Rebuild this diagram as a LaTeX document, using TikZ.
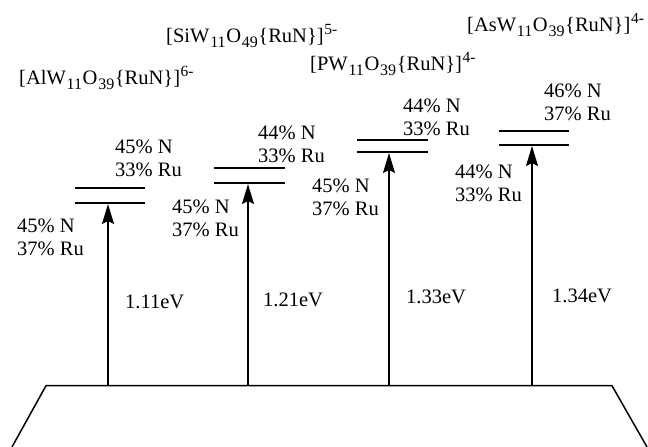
\documentclass[tikz,border=0pt]{standalone}
\usepackage{fontspec}
\setmainfont{Liberation Serif}
\usetikzlibrary{arrows.meta}

\tikzset{
  txt/.style={inner sep=0pt, anchor=base west, font=\fontsize{20.5}{23}\selectfont},
  level/.style={line width=2.1pt},
  excite/.style={line width=1.8pt, -{Stealth[length=20pt,width=12pt,inset=3pt]}},
  band/.style={line width=1.5pt, line join=miter}
}
% small raised / lowered figures in the ion formulas
\newcommand{\lowfig}[1]{\kern0.8pt\raisebox{-5pt}{\fontsize{16}{16}\selectfont #1}\kern0.6pt}
\newcommand{\highfig}[1]{\kern0.6pt\raisebox{8pt}{\fontsize{15.5}{16}\selectfont #1}}
% ion formula: [X W_11 O_n {RuN}]^{charge}
\newcommand{\ion}[3]{[#1W\lowfig{11}O\lowfig{#2}\{RuN\}]\highfig{#3}}

\begin{document}
\begin{tikzpicture}[x=1pt, y=-1pt]
  \useasboundingbox (0,0) rectangle (648,447);

  % ground band (trapezoid open at the bottom)
  \coordinate (tl) at (46,385.7);
  \coordinate (tr) at (612,385.7);
  \draw[band] (12,447) -- (tl) -- (tr) -- (647,447);

  % band points where the excitations start
  \coordinate (b1) at (108,385.7);
  \coordinate (b2) at (248,385.7);
  \coordinate (b3) at (389,385.7);
  \coordinate (b4) at (532,385.7);

  % level pairs: upper and lower lines
  \draw[level] (75,188) -- (145,188);
  \draw[level] (75,203) -- (145,203);
  \draw[level] (214,168) -- (285,168);
  \draw[level] (214,183) -- (285,183);
  \draw[level] (357,140) -- (428,140);
  \draw[level] (357,152) -- (428,152);
  \draw[level] (499,131) -- (569,131);
  \draw[level] (499,145) -- (569,145);

  % lower levels where the arrows end
  \coordinate (t1) at (108,204);
  \coordinate (t2) at (248,184);
  \coordinate (t3) at (389,153);
  \coordinate (t4) at (532,146);

  \draw[excite] (b1) -- (t1);
  \draw[excite] (b2) -- (t2);
  \draw[excite] (b3) -- (t3);
  \draw[excite] (b4) -- (t4);

  % excitation energies
  \node[txt] (e1) at (125,308) {1.11eV};
  \node[txt] (e2) at (263,306) {1.21eV};
  \node[txt] (e3) at (406,303) {1.33eV};
  \node[txt] (e4) at (552,302) {1.34eV};

  % orbital compositions, upper levels
  \node[txt] (u1a) at (115,153) {45\% N};
  \node[txt] (u1b) at (115,176) {33\% Ru};
  \node[txt] (u2a) at (258,139) {44\% N};
  \node[txt] (u2b) at (258,162) {33\% Ru};
  \node[txt] (u3a) at (403,112) {44\% N};
  \node[txt] (u3b) at (403,135) {33\% Ru};
  \node[txt] (u4a) at (544,97) {46\% N};
  \node[txt] (u4b) at (544,120) {37\% Ru};

  % orbital compositions, lower levels
  \node[txt] (d1a) at (17,232) {45\% N};
  \node[txt] (d1b) at (17,255) {37\% Ru};
  \node[txt] (d2a) at (172,213) {45\% N};
  \node[txt] (d2b) at (172,236) {37\% Ru};
  \node[txt] (d3a) at (312,192) {45\% N};
  \node[txt] (d3b) at (312,215) {37\% Ru};
  \node[txt] (d4a) at (455,178) {44\% N};
  \node[txt] (d4b) at (455,201) {33\% Ru};

  % ion formulas
  \node[txt] (al) at (19,84) {\ion{Al}{39}{6-}};
  \node[txt] (si) at (166,42) {\ion{Si}{49}{5-}};
  \node[txt] (p)  at (310,70) {\ion{P}{39}{4-}};
  \node[txt] (as) at (467,31) {\ion{As}{39}{4-}};
\end{tikzpicture}
\end{document}
